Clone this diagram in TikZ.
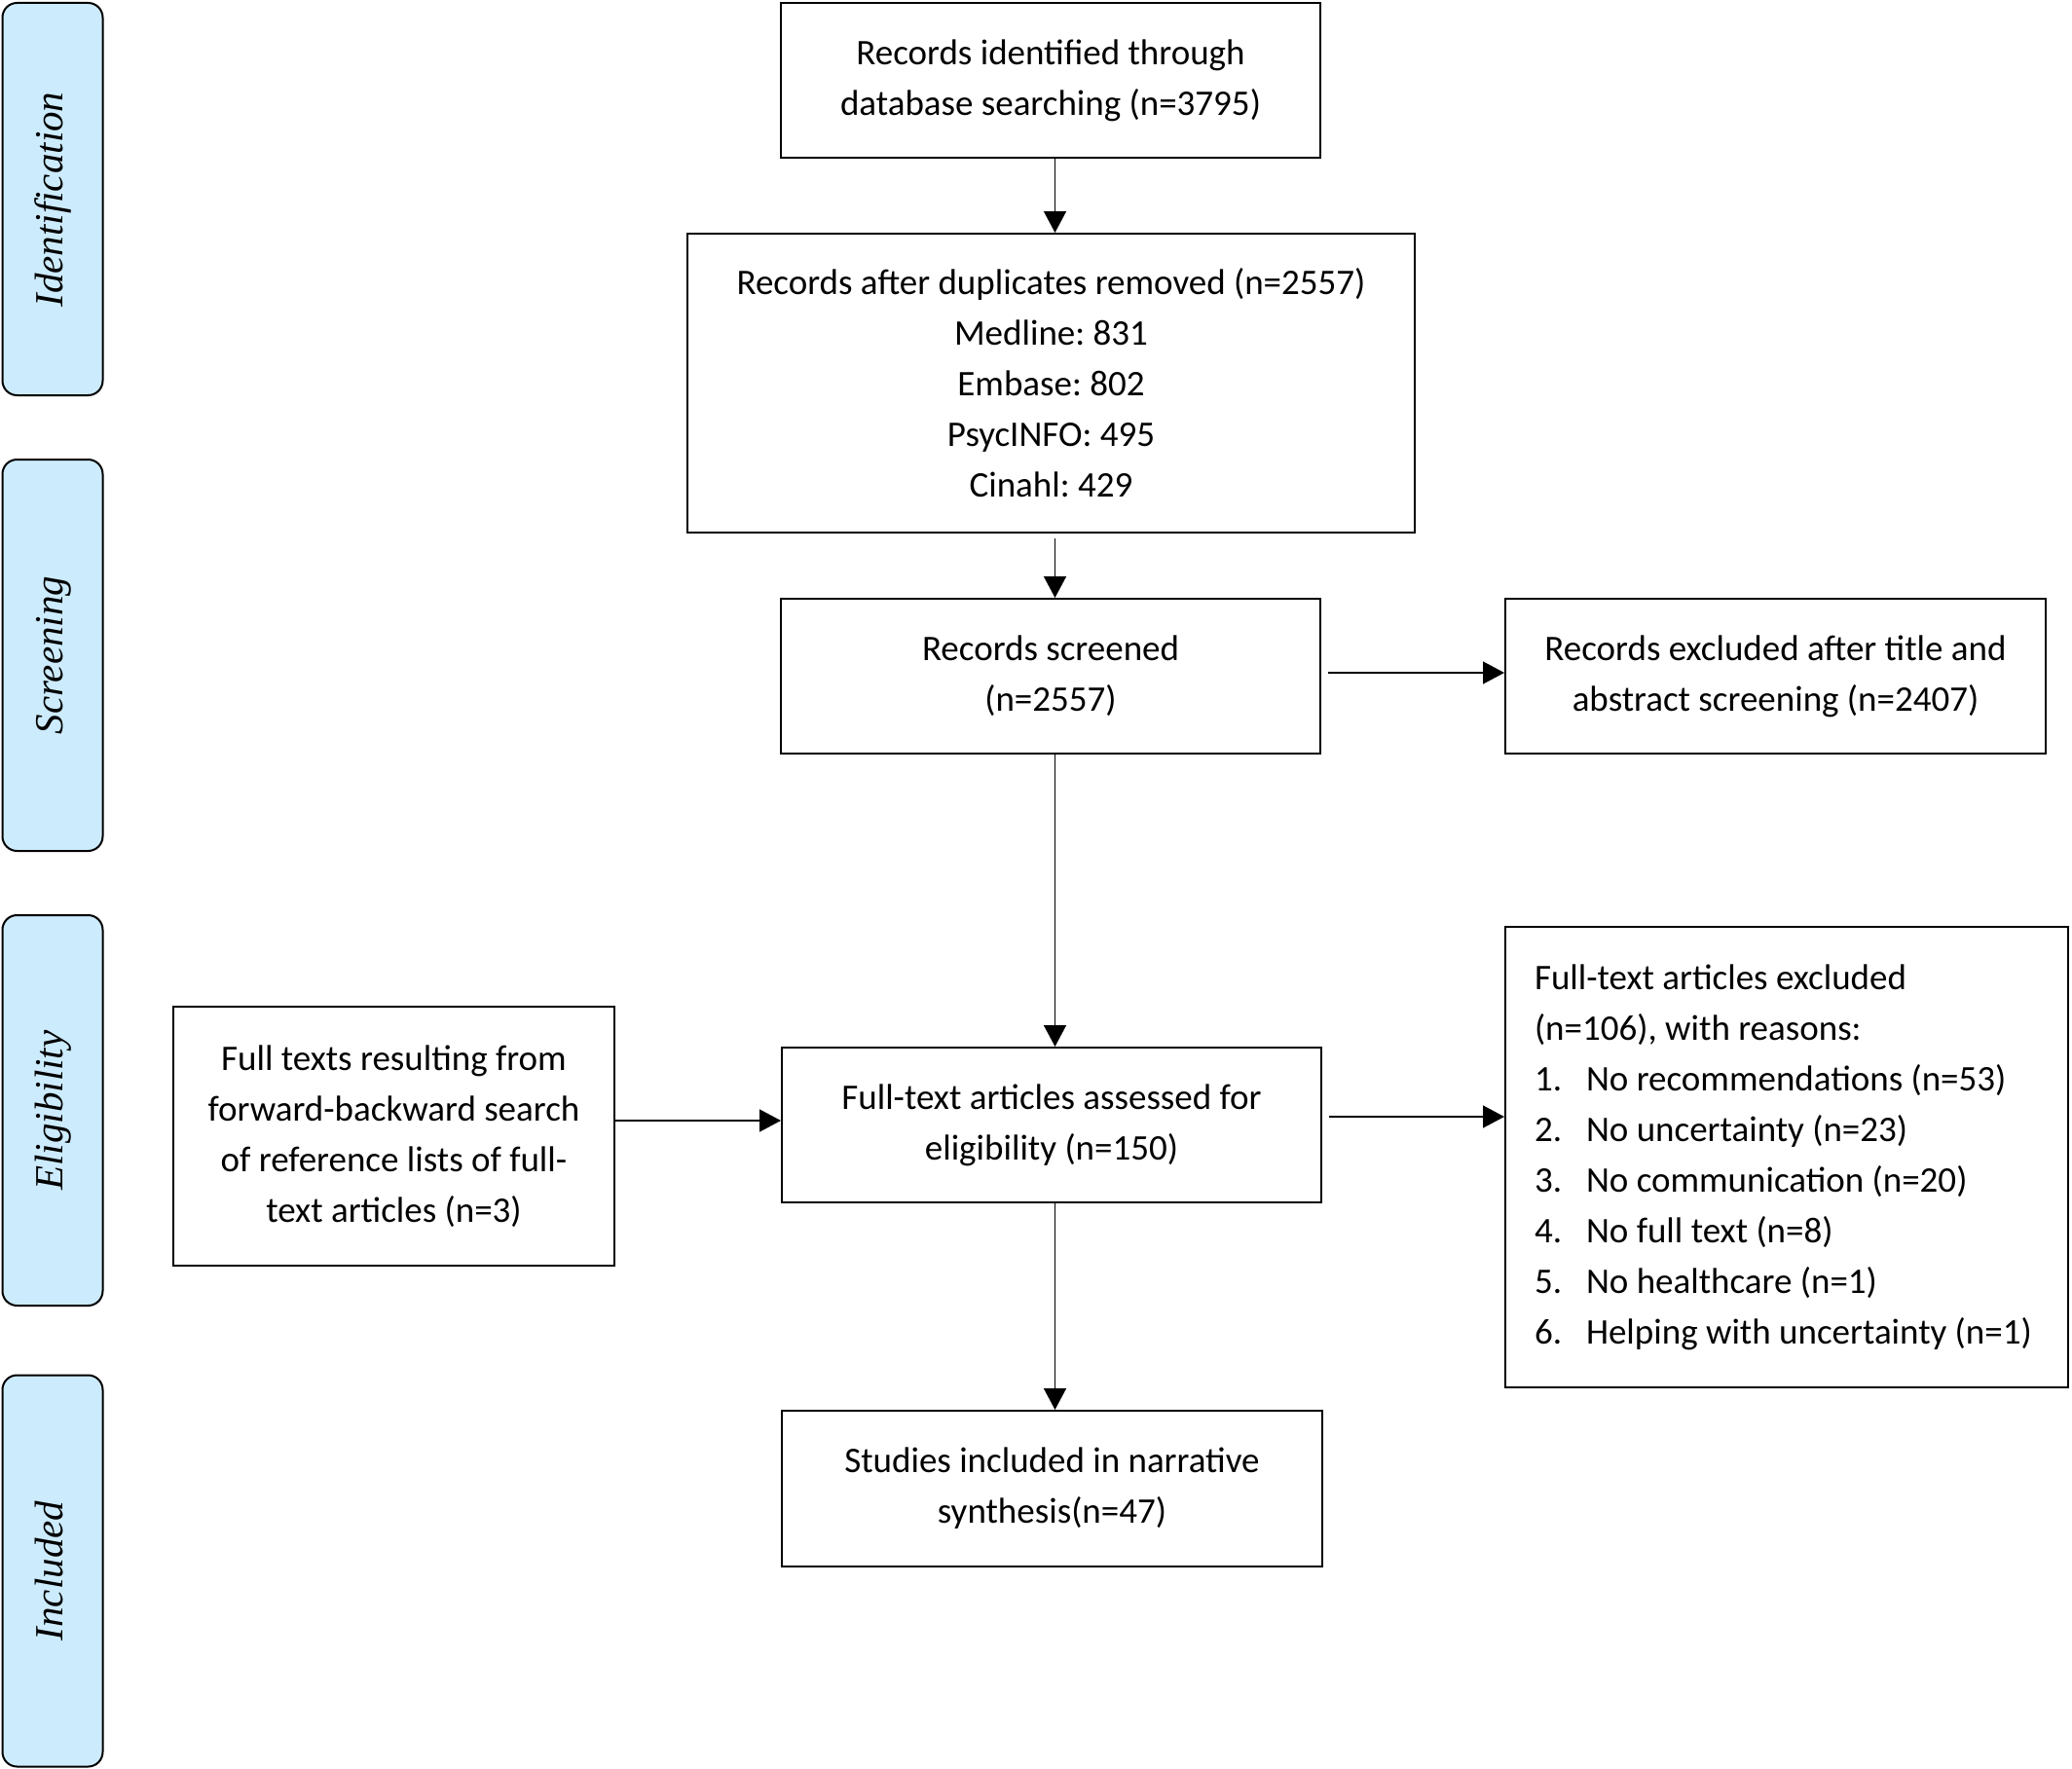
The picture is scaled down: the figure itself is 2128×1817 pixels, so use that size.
\documentclass[tikz,border=0pt]{standalone}
\usepackage{fontspec}
\setmainfont{Carlito}
\newfontfamily\labfont{Liberation Serif}
\usetikzlibrary{arrows.meta,calc}
\definecolor{barblue}{RGB}{204,235,253}
\newcommand{\itm}[2]{\makebox[53pt][l]{#1}#2}
\frenchspacing
\begin{document}
\begin{tikzpicture}[x=1pt,y=-1pt,
  box/.style={draw,line width=2pt,inner sep=0pt,align=center,
    font=\fontsize{37}{52}\selectfont},
  bar/.style={draw,line width=2pt,fill=barblue,rounded corners=15pt,
    minimum width=103pt,inner sep=0pt},
  lab/.style={anchor=base,rotate=90,inner sep=0pt,
    font=\labfont\itshape\fontsize{41}{48}\selectfont},
  arr/.style={line width=1.5pt,-{Triangle[length=22pt,width=23pt]}}]
\useasboundingbox (0,0) rectangle (2128,1817);

% phase bars
\node[bar,minimum height=403pt] (barI) at (54,204.5) {};
\node[bar,minimum height=402pt] (barS) at (54,673) {};
\node[bar,minimum height=401pt] (barE) at (54,1140.5) {};
\node[bar,minimum height=402pt] (barN) at (54,1613.5) {};
\node[lab] (labI) at (64,205) {Identification};
\node[lab] (labS) at (64,673) {Screening};
\node[lab] (labE) at (64,1140.5) {Eligibility};
\node[lab] (labN) at (64,1613.5) {Included};

% boxes
\node[box,minimum width=554pt,minimum height=159pt] (b1) at (1079,82.5)
  {Records identified through\\database searching (n=3795)};
\node[box,minimum width=747pt,minimum height=307pt] (b2) at (1079.5,393.5)
  {Records after duplicates removed (n=2557)\\Medline: 831\\Embase: 802\\PsycINFO: 495\\Cinahl: 429};
\node[box,minimum width=554pt,minimum height=159pt] (b3) at (1079,694.5)
  {Records screened\\(n=2557)};
\node[box,minimum width=555pt,minimum height=159pt] (b4) at (1823.5,694.5)
  {Records excluded after title and\\abstract screening (n=2407)};
\node[box,minimum width=554pt,minimum height=159pt] (b5) at (1080,1155.5)
  {Full-text articles assessed for\\eligibility (n=150)};
\node[box,minimum width=453pt,minimum height=266pt] (b6) at (404.5,1167)
  {Full texts resulting from\\forward-backward search\\of reference lists of full-\\text articles (n=3)};
\node[box,minimum width=578pt,minimum height=473pt,align=flush left,
  text width=518pt,inner xsep=30pt] (b7) at (1835,1188.5)
  {Full-text articles excluded\\(n=106), with reasons:\\
   \itm{1.}{No recommendations (n=53)}\\
   \itm{2.}{No uncertainty (n=23)}\\
   \itm{3.}{No communication (n=20)}\\
   \itm{4.}{No full text (n=8)}\\
   \itm{5.}{No healthcare (n=1)}\\
   \mbox{\itm{6.}{Helping with uncertainty (n=1)}}};
\node[box,minimum width=555pt,minimum height=160pt] (b8) at (1080.5,1529)
  {Studies included in narrative\\synthesis(n=47)};

% connector guides
\coordinate (ax) at (1083.5,0);
\coordinate (ay1) at (0,691);
\coordinate (ay2) at (0,1147);
\coordinate (ay3) at (0,1151);

\draw[arr] (b1.south -| ax) -- (b2.north -| ax);
\draw[arr] ($(b2.south -| ax)+(0,5)$) -- (b3.north -| ax);
\draw[arr] (b3.south -| ax) -- (b5.north -| ax);
\draw[arr] (b5.south -| ax) -- (b8.north -| ax);
\draw[arr] ($(b3.east |- ay1)+(7,0)$) -- (b4.west |- ay1);
\draw[arr] ($(b5.east |- ay2)+(7,0)$) -- (b7.west |- ay2);
\draw[arr] (b6.east |- ay3) -- (b5.west |- ay3);
\end{tikzpicture}
\end{document}
